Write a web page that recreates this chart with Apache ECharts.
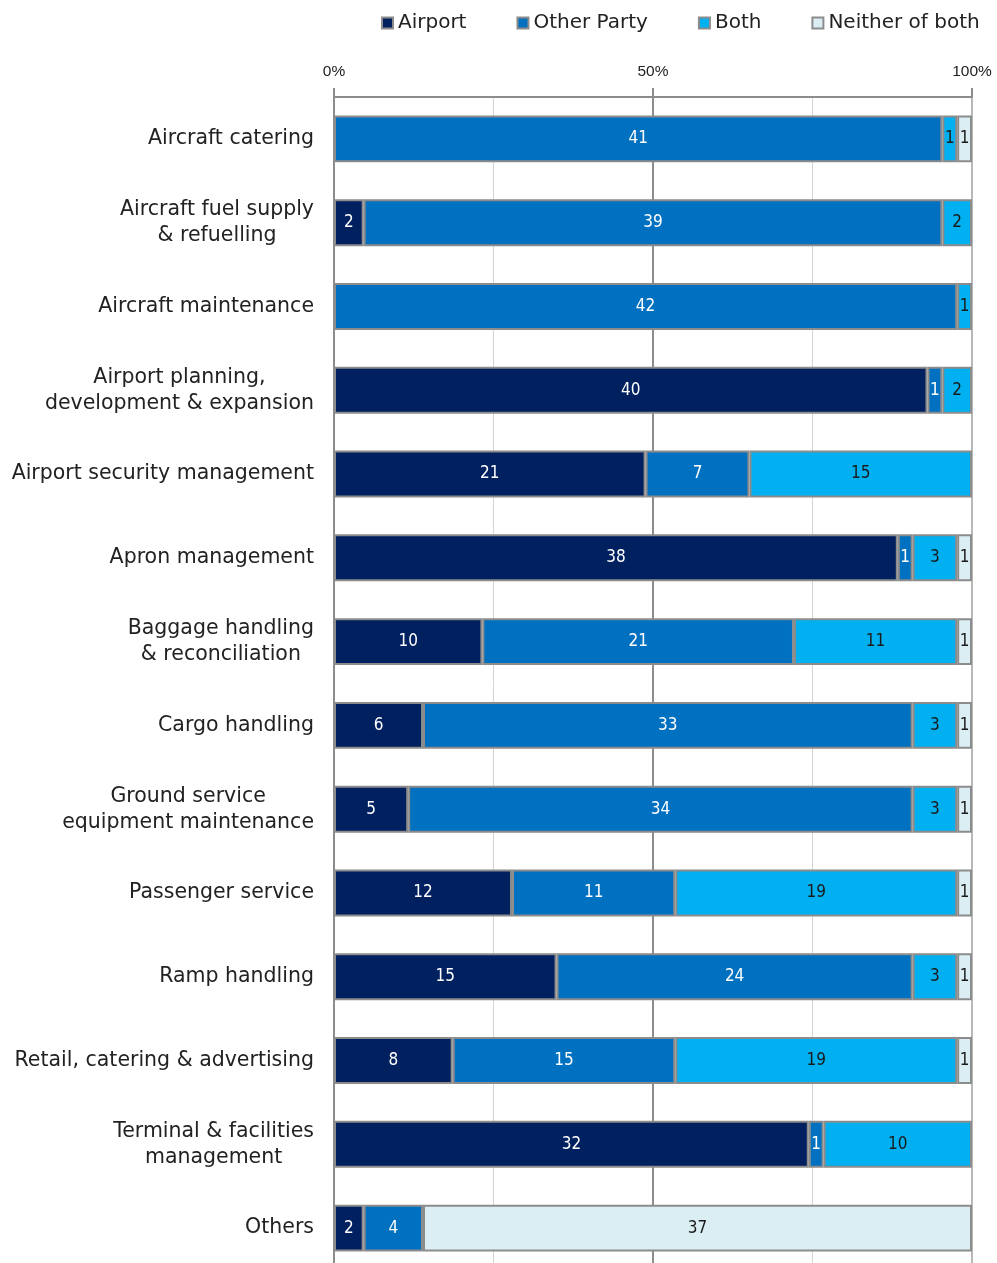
<!DOCTYPE html>
<html><head><meta charset="utf-8">
<script src="https://cdn.jsdelivr.net/npm/echarts@6/dist/echarts.min.js"></script>
<style>html,body{margin:0;padding:0;background:#fff}#c{width:997px;height:1263px}</style>
</head><body><div id="c"></div>
<script>
const categories = [
  "Aircraft catering",
  "Aircraft fuel supply\n& refuelling",
  "Aircraft maintenance",
  "Airport planning,\ndevelopment & expansion",
  "Airport security management",
  "Apron management",
  "Baggage handling\n& reconciliation",
  "Cargo handling",
  "Ground service\nequipment maintenance",
  "Passenger service",
  "Ramp handling",
  "Retail, catering & advertising",
  "Terminal & facilities\nmanagement",
  "Others"
];
const airport    = [0, 2, 0, 40, 21, 38, 10, 6, 5, 12, 15, 8, 32, 2];
const otherParty = [41, 39, 42, 1, 7, 1, 21, 33, 34, 11, 24, 15, 1, 4];
const both       = [1, 2, 1, 2, 15, 3, 11, 3, 3, 19, 3, 19, 10, 0];
const neither    = [1, 0, 0, 0, 0, 1, 1, 1, 1, 1, 1, 1, 0, 37];
const total = 43;
const tickLabels = {0: "0%", 21.5: "50%", 43: "100%"};

const seriesDefs = [
  {name: "Airport", data: airport, color: "#002060", label: "#ffffff"},
  {name: "Other Party", data: otherParty, color: "#0070C0", label: "#ffffff"},
  {name: "Both", data: both, color: "#00B0F0", label: "#1a1a1a"},
  {name: "Neither of both", data: neither, color: "#DAEEF3", label: "#1a1a1a"}
];

const chart = echarts.init(document.getElementById('c'), null, {renderer: 'canvas'});
const catFont = "'DejaVu Sans', sans-serif";
const numFont = "'Liberation Sans Narrow', 'DejaVu Sans Condensed', 'Liberation Sans', sans-serif";

chart.setOption({
  animation: false,
  backgroundColor: '#ffffff',
  legend: {
    top: 8, left: 376, itemGap: 50, itemWidth: 11, itemHeight: 11,
    icon: 'rect',
    textStyle: {fontFamily: catFont, fontSize: 20, color: '#222'},
    data: seriesDefs.map(s => s.name)
  },
  grid: {left: 334, right: 25, top: 97, height: 1173, containLabel: false, outerBoundsMode: 'none'},
  xAxis: [
    {
      type: 'value', position: 'top', min: 0, max: total, interval: 21.5,
      axisLine: {show: true, lineStyle: {color: '#8c8c8c', width: 2}},
      axisTick: {show: true, inside: false, length: 9, lineStyle: {color: '#8c8c8c', width: 2}},
      axisLabel: {margin: 17, fontFamily: "'Liberation Sans', sans-serif", fontSize: 15.5, color: '#222',
        formatter: v => tickLabels[v] !== undefined ? tickLabels[v] : ''},
      splitLine: {show: true, lineStyle: {color: ['#8c8c8c', '#8c8c8c', '#b8b8b8'], width: 2}}
    },
    {
      type: 'value', position: 'top', min: 0, max: total, interval: 10.75,
      axisLine: {show: false}, axisTick: {show: false}, axisLabel: {show: false},
      splitLine: {show: true, lineStyle: {color: ['rgba(0,0,0,0)', '#d4d4d4', 'rgba(0,0,0,0)', '#d4d4d4', 'rgba(0,0,0,0)'], width: 1}}
    }
  ],
  yAxis: {
    type: 'category', inverse: true, data: categories,
    axisLine: {show: true, lineStyle: {color: '#8c8c8c', width: 2}},
    axisTick: {show: false},
    axisLabel: {
      margin: 20, align: 'right',
      formatter: v => v.split('\n').map(l => '{c|' + l + '}').join('\n'),
      rich: {c: {align: 'center', fontFamily: catFont, fontSize: 20.5, color: '#222', lineHeight: 26}}
    }
  },
  series: seriesDefs.map(s => ({
    name: s.name, type: 'bar', stack: 'all', xAxisIndex: 0, barWidth: '56%',
    data: s.data.map(v => v === 0 ? null : v),
    itemStyle: {color: s.color, borderColor: '#8c8c8c', borderWidth: 2},
    label: {show: true, position: 'inside', color: s.label, fontFamily: numFont, fontSize: 17,
      formatter: p => p.value}
  }))
});
</script></body></html>
